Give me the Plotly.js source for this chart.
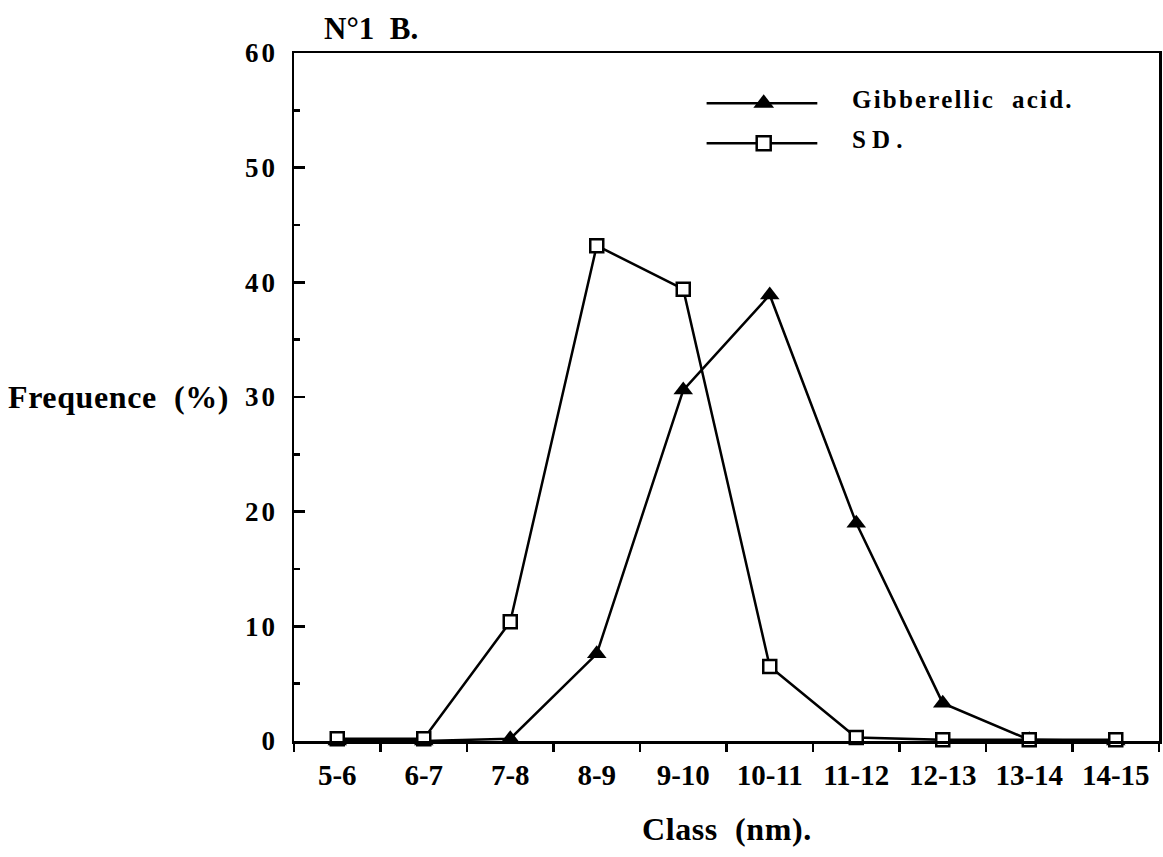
<!DOCTYPE html>
<html><head><meta charset="utf-8">
<script src="https://cdn.plot.ly/plotly-3.0.1.min.js"></script>
<style>html,body{margin:0;padding:0;background:#fff}#c{width:1163px;height:857px}
.annotation-text{letter-spacing:0.6px}</style>
</head><body><div id="c"></div>
<script>
const classes = ["5-6","6-7","7-8","8-9","9-10","10-11","11-12","12-13","13-14","14-15"];
const gibberellic = [0, 0, 0.2, 7.6, 30.6, 38.9, 19.0, 3.3, 0.1, 0];
const sd = [0.2, 0.2, 10.4, 43.2, 39.4, 6.5, 0.3, 0.1, 0.1, 0.1];
const yTicks = [0, 10, 20, 30, 40, 50, 60];
const seriesNames = ["Gibberellic  acid.", "SD."];

const F = "Liberation Serif, Times New Roman, serif";
const TS = "\u2009";
const LW = 2.5;
const legX = [0.477, 0.605], legMid = 0.543, legY = [0.927, 0.869];
const traces = [
  {x: classes, y: gibberellic, mode: "lines+markers", cliponaxis: false,
   line: {color: "#000", width: LW},
   marker: {symbol: "triangle-up", size: 17, color: "#000"}, showlegend: false},
  {x: classes, y: sd, mode: "lines+markers", cliponaxis: false,
   line: {color: "#000", width: LW},
   marker: {symbol: "square", size: 13, color: "#fff", line: {width: LW, color: "#000"}}, showlegend: false},
  // legend samples
  {x: legX, y: [legY[0], legY[0]], xaxis: "x2", yaxis: "y2", mode: "lines",
   line: {color: "#000", width: LW}, showlegend: false, hoverinfo: "skip"},
  {x: [legMid], y: [legY[0]], xaxis: "x2", yaxis: "y2", mode: "markers", cliponaxis: false,
   marker: {symbol: "triangle-up", size: 18, color: "#000", opacity: 1}, showlegend: false, hoverinfo: "skip"},
  {x: legX, y: [legY[1], legY[1]], xaxis: "x2", yaxis: "y2", mode: "lines",
   line: {color: "#000", width: LW}, showlegend: false, hoverinfo: "skip"},
  {x: [legMid], y: [legY[1]], xaxis: "x2", yaxis: "y2", mode: "markers", cliponaxis: false,
   marker: {symbol: "square", size: 14, color: "#fff", line: {width: LW, color: "#000"}}, showlegend: false, hoverinfo: "skip"}
];

const layout = {
  width: 1163, height: 857,
  margin: {l: 294, r: 4, t: 53, b: 116},
  paper_bgcolor: "#fff", plot_bgcolor: "#fff",
  font: {family: F, color: "#000"},
  title: {text: "<b>N°1  B.</b>", x: 324/1163, xanchor: "left", xref: "container",
          y: 1 - 28/857, yanchor: "middle", yref: "container",
          font: {family: F, size: 31, color: "#000"}},
  xaxis: {type: "category", range: [-0.5, 9.5], tickson: "boundaries",
          tickvals: classes, ticktext: classes.map(c => "<b>" + c + "</b>"),
          ticks: "outside", ticklen: 8, tickwidth: LW, tickcolor: "#000",
          showline: true, linewidth: LW, linecolor: "#000", mirror: true,
          showgrid: false, zeroline: false,
          tickfont: {family: F, size: 29, color: "#000"},
          ticklabelstandoff: 7},
  yaxis: {range: [0, 60], tickvals: yTicks,
          ticktext: yTicks.map(v => "<b><span style=\"letter-spacing:3px\">" + String(v) + "</span></b>"),
          ticks: "inside", ticklen: 11, tickwidth: LW, tickcolor: "#000",
          minor: {dtick: 5, ticks: "inside", ticklen: 6, tickwidth: LW, tickcolor: "#000", showgrid: false},
          showline: true, linewidth: LW, linecolor: "#000", mirror: true,
          showgrid: false, zeroline: false,
          tickfont: {family: F, size: 27, color: "#000"}, ticklabelstandoff: 8},
  xaxis2: {overlaying: "x", range: [0, 1], visible: false, fixedrange: true},
  yaxis2: {overlaying: "y", range: [0, 1], visible: false, fixedrange: true},
  annotations: [
    {text: "<b><span style=\"letter-spacing:2.2px\">" + seriesNames[0] + "</span></b>", xref: "paper", yref: "paper", x: (850-294)/865, y: legY[0],
     xanchor: "left", yanchor: "middle", yshift: 4, showarrow: false, font: {family: F, size: 25, color: "#000"}},
    {text: "<b>S" + TS + "D" + TS + ".</b>", xref: "paper", yref: "paper", x: (850-294)/865, y: legY[1],
     xanchor: "left", yanchor: "middle", yshift: 4, showarrow: false, font: {family: F, size: 25, color: "#000"}},
    {text: "<b>Frequence  (%)</b>", xref: "paper", yref: "paper", x: -294/865 + 6/865, y: (741-397)/688,
     xanchor: "left", yanchor: "middle", showarrow: false, font: {family: F, size: 32, color: "#000"}},
    {text: "<b>Class  (nm).</b>", xref: "paper", yref: "paper", x: (727-294)/865, y: -(829-741)/688,
     xanchor: "center", yanchor: "middle", showarrow: false, font: {family: F, size: 32, color: "#000"}}
  ]
};
Plotly.newPlot("c", traces, layout, {displayModeBar: false, staticPlot: true});
</script></body></html>
